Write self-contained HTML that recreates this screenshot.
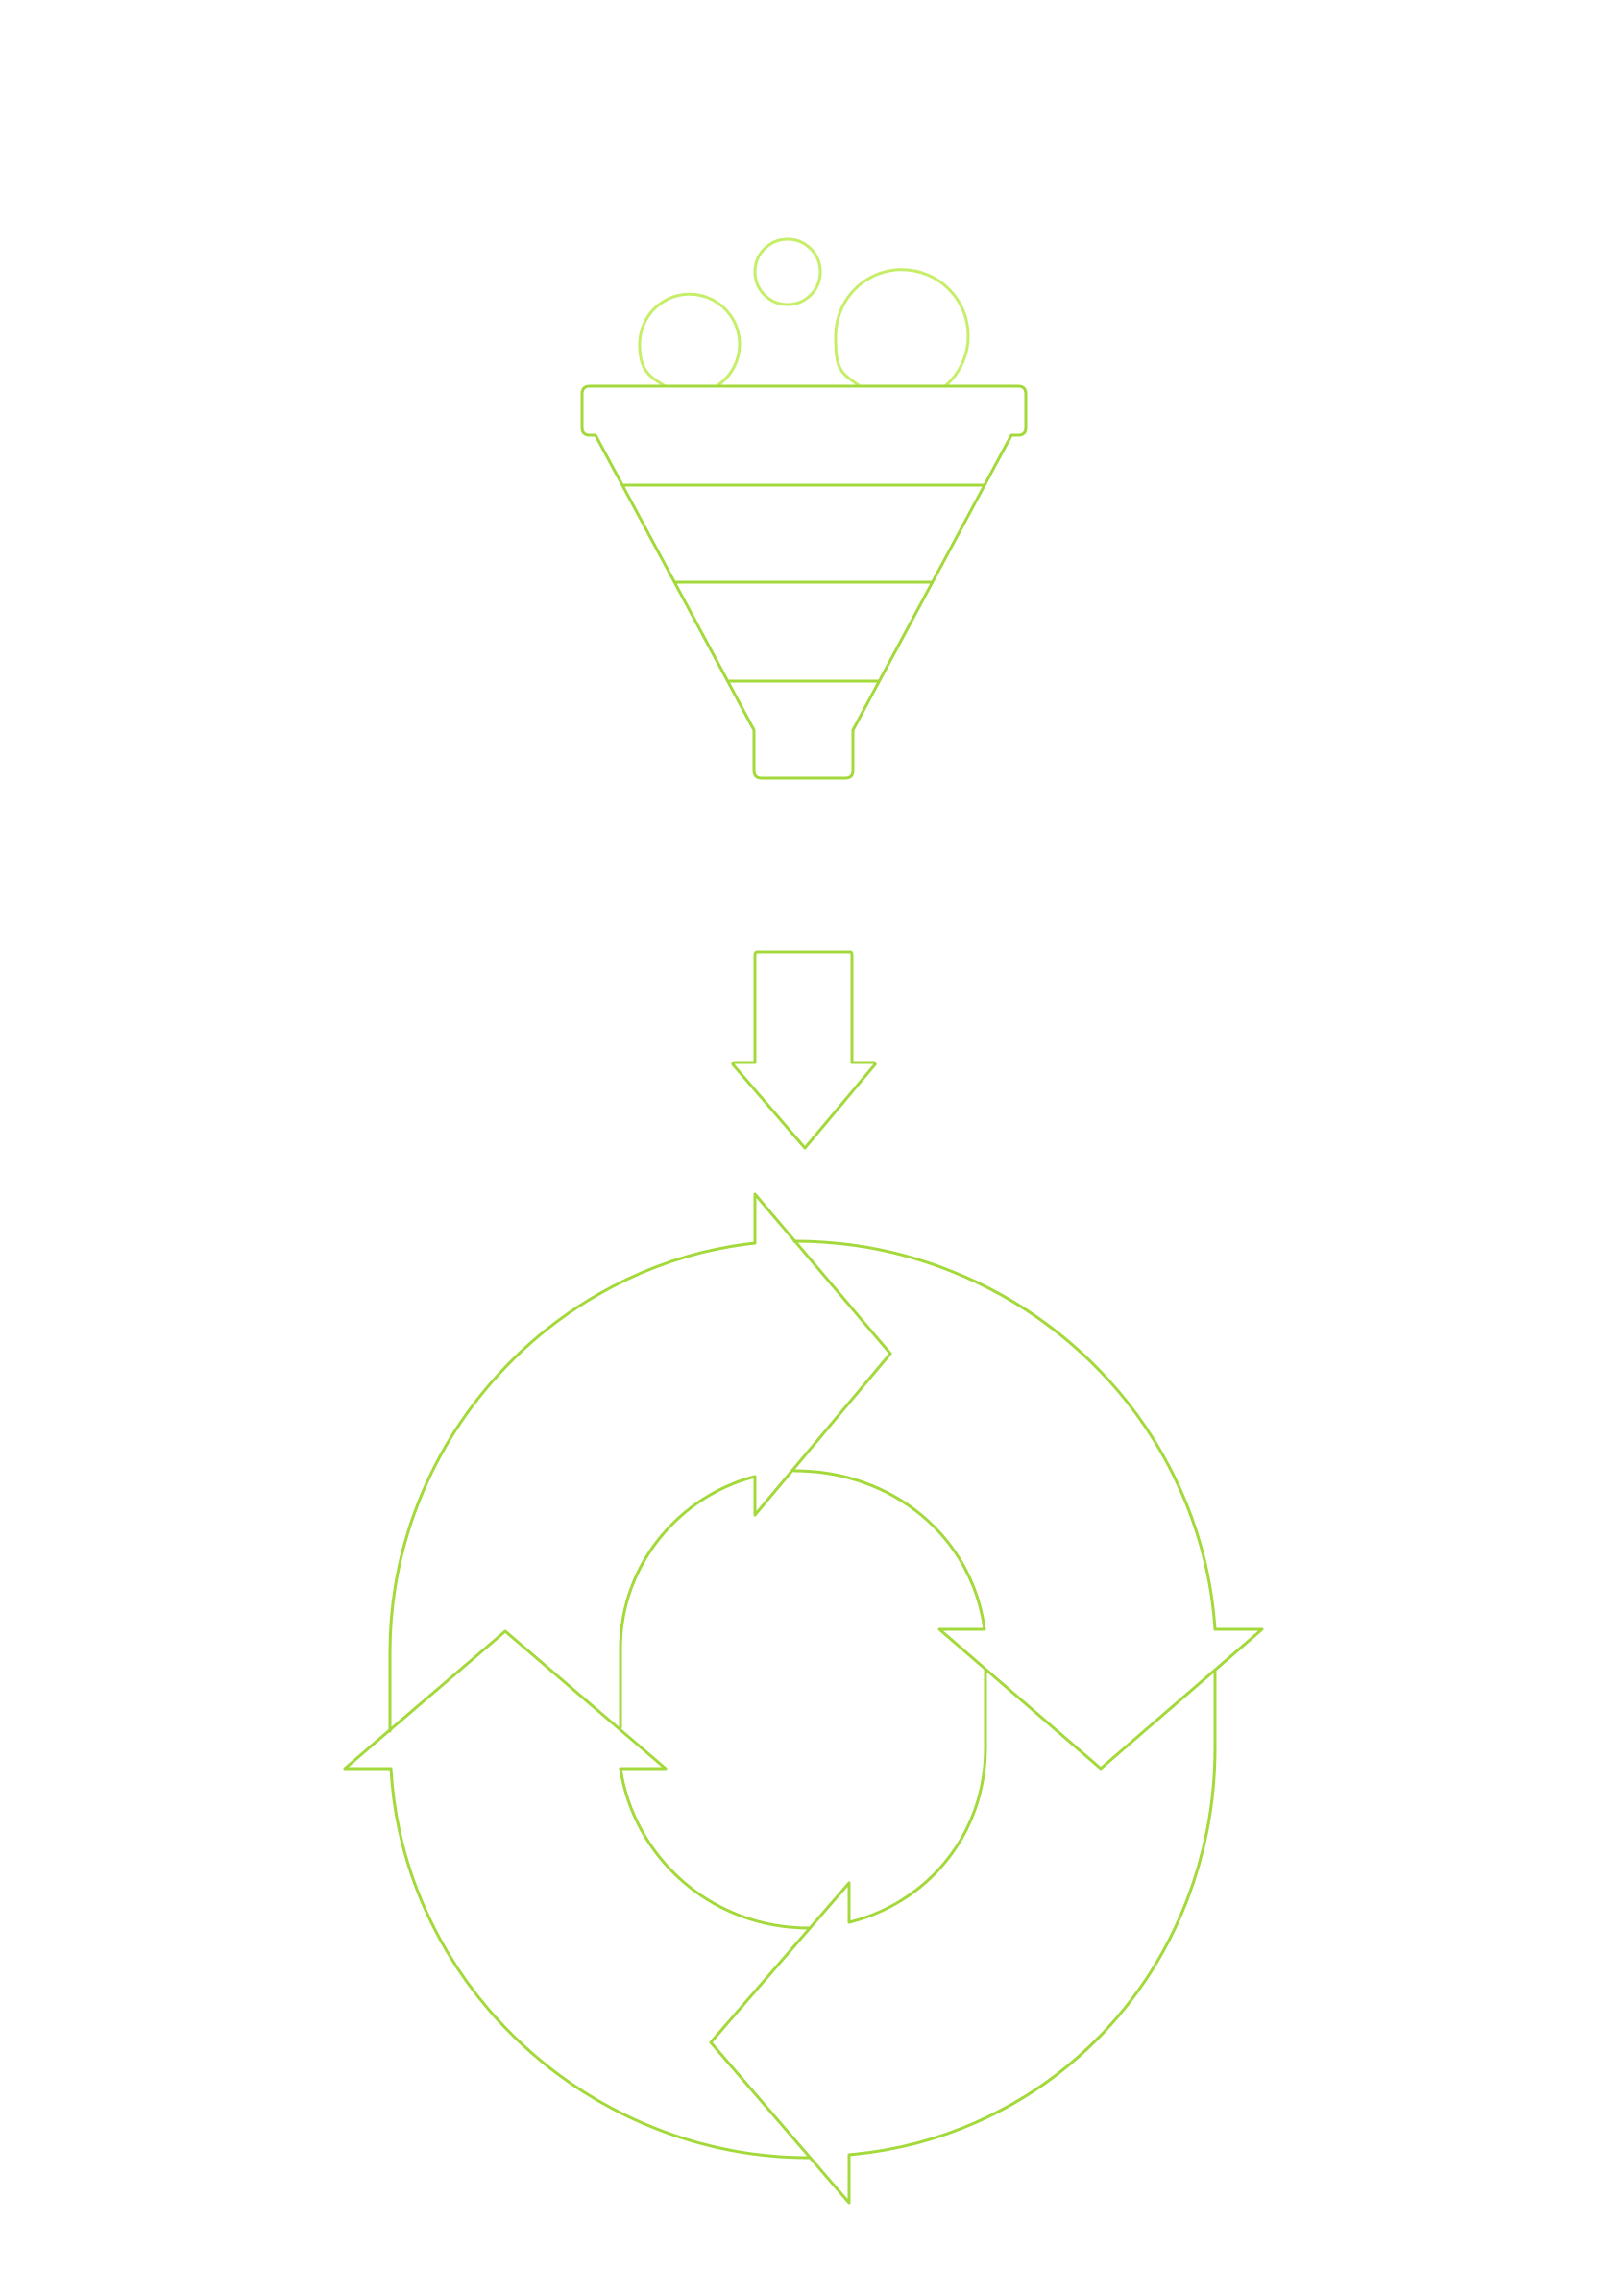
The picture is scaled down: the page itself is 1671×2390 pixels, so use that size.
<!DOCTYPE html>
<html><head><meta charset="utf-8"><style>html,body{margin:0;padding:0;background:#fff}svg{display:block}</style></head>
<body>
<svg width="1671" height="2390" viewBox="0 0 1671 2390" xmlns="http://www.w3.org/2000/svg" fill="none" stroke-linejoin="round" stroke-linecap="round">
<g stroke="#c6ee68" stroke-width="3">
<circle cx="820" cy="283" r="34"/>
<path d="M691 401 C676 392 666 385 666 360 A52 52 0 1 1 746 402"/>
<path d="M894 401 C875 388 870 385 870 351 A69 69 0 1 1 984 402"/>
</g>
<g stroke="#a3d93a" stroke-width="3">
<path d="M614 402 L1060 402 Q1068 402 1068 410 L1068 445 Q1068 453 1060 453 L1053 453 L888 760 L888 802 Q888 810 880 810 L793 810 Q785 810 785 802 L785 760 L620 453 L614 453 Q606 453 606 445 L606 410 Q606 402 614 402 Z"/>
<line x1="649" y1="505" x2="1025" y2="505"/>
<line x1="704" y1="606" x2="970" y2="606"/>
<line x1="759" y1="709" x2="914" y2="709"/>
<path d="M789 991 L885 991 Q887 991 887 994 L887 1106 L910 1106 Q912 1107 911 1108 L838 1195 L763 1108 Q762 1106 765 1106 L786 1106 L786 994 Q786 991 789 991 Z"/>
<path d="M406 1802 L406 1720 C406 1500 575 1317 786 1294 L786 1243 L927 1409 L786 1577 L786 1537 C710 1556 646 1627 646 1716 L646 1798"/>
<path d="M827 1292 C1058 1292 1250 1470 1265 1696 L1314 1696 L1146 1841 L978 1696 L1025 1696 C1012 1600 930 1531 827 1531"/>
<path d="M1265 1739 L1265 1819 C1265 2045 1100 2224 884 2243 L884 2293 L740 2126 L884 1960 L884 2001 C962 1982 1026 1913 1026 1819 L1026 1739"/>
<path d="M842 2246 C615 2246 420 2068 407 1841 L359 1841 L526 1698 L693 1841 L646 1841 C660 1933 740 2007 842 2007"/>
</g>
</svg>
</body></html>
